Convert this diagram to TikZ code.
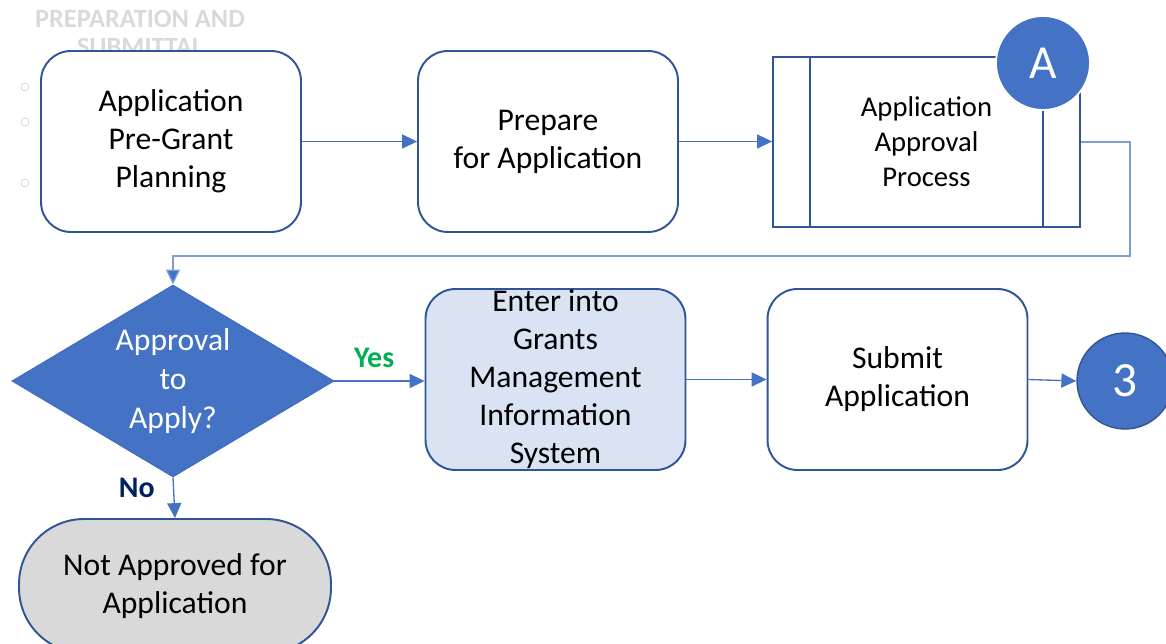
\documentclass[tikz,border=0pt]{standalone}
\usepackage{fontspec}
\setmainfont{Carlito}
\usetikzlibrary{shapes.geometric,arrows.meta}
\definecolor{flowdark}{HTML}{2F5597}
\definecolor{flowblue}{HTML}{4472C4}
\definecolor{flowpale}{HTML}{DAE3F3}
\definecolor{flowgray}{HTML}{D9D9D9}
\definecolor{flowgreen}{HTML}{00B050}
\definecolor{flownavy}{HTML}{002060}
\definecolor{flowline}{HTML}{7E9ED6}

\begin{document}
\begin{tikzpicture}[x=0.02cm,y=-0.02cm,
    box/.style={draw=flowdark,line width=1.1pt,fill=white,rounded corners=17pt,
      minimum width=5.2cm,minimum height=3.62cm,align=center,
      font=\fontsize{18}{21.6}\selectfont},
    flow/.style={draw=flowblue,line width=0.75pt,
      -{Triangle[length=8.5pt,width=8pt,fill=flowblue]}},
    bubble/.style={circle,fill=flowblue,text=white,inner sep=0pt},
    answer/.style={font=\fontsize{17}{20}\selectfont\bfseries}]
  \useasboundingbox (0,0) rectangle (1166,644);
  \clip (0,0) rectangle (1166,644);

  \node[text=gray!30,font=\fontsize{15}{16}\selectfont\bfseries,align=center] (title) at (140,33) {PREPARATION AND\\SUBMITTAL};
  \foreach \y in {87,122,183}
    \draw[gray!35] (25,\y) circle (0.08cm);

  \node[box] (plan) at (171,141.5) {Application\\Pre-Grant\\Planning};
  \node[box] (prep) at (548,141.5) {Prepare\\for Application};
  \node[draw=flowdark,line width=1.1pt,fill=white,minimum width=6.14cm,minimum height=3.4cm,
    align=center,font=\fontsize{16.3}{19.9}\selectfont] (approve) at (926.5,142) {Application\\Approval\\Process};
  \draw[flowdark,line width=1.1pt] ([xshift=0.76cm]approve.north west) -- ([xshift=0.76cm]approve.south west)
    ([xshift=-0.76cm]approve.north east) -- ([xshift=-0.76cm]approve.south east);
  \node[bubble,draw=white,line width=1pt,minimum size=1.88cm,font=\fontsize{27}{30}\selectfont] (a) at (1043,63) {A};

  \node[diamond,draw=flowblue!80!flowdark,line width=0.6pt,fill=flowblue,text=white,aspect=1.68,inner sep=0pt,
    minimum width=6.44cm,minimum height=3.84cm,align=center,font=\fontsize{18}{22}\selectfont] (ask) at (173,381) {Approval\\to\\Apply?};
  \node[box,fill=flowpale,inner sep=0pt,font=\fontsize{18}{21.6}\selectfont] (gmis) at (555.5,379.5) {Enter into\\Grants\\Management\\Information\\System};
  \node[box] (submit) at (897.5,379.5) {Submit\\Application};
  \node[bubble,draw=flowdark,line width=0.8pt,minimum size=1.92cm,font=\fontsize{28}{30}\selectfont] (three) at (1125,381) {3};
  \node[box,fill=flowgray,rounded corners=1.3cm,minimum width=6.24cm,minimum height=2.68cm] (stop) at (175,586) {Not Approved for\\Application};

  \draw[flow] (plan.east) -- (prep.west);
  \draw[flow] (prep.east) -- (prep.east -| approve.west);
  \coordinate (back) at (1130,256);
  \draw[flow,draw=flowline] (approve.east) -| (back) -| (ask.north);
  \draw[flow] (ask.east) -- node[answer,above=4pt,pos=0.44,text=flowgreen] {Yes} (ask.east -| gmis.west);
  \draw[flow] (gmis.east) -- (gmis.east -| submit.west);
  \draw[flow] (submit.east) -- (three.west);
  \draw[flow] (ask.south) -- node[answer,left=7pt,pos=0.25,text=flownavy] {No} (stop.north);
\end{tikzpicture}
\end{document}
